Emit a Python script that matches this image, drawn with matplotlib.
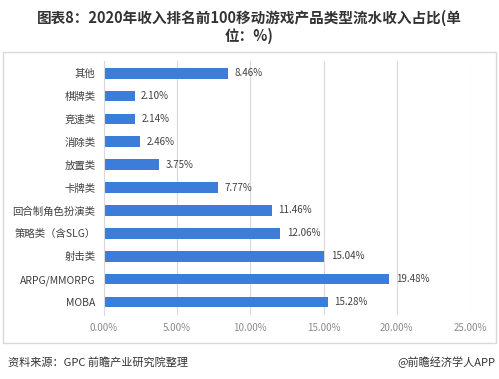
import matplotlib.pyplot as plt
from matplotlib.patches import Rectangle

plt.rcParams['font.family'] = ['Noto Sans CJK SC', 'DejaVu Sans']

categories = ['其他', '棋牌类', '竞速类', '消除类', '放置类', '卡牌类',
              '回合制角色扮演类', '策略类（含SLG）', '射击类', 'ARPG/MMORPG', 'MOBA']
values = [8.46, 2.10, 2.14, 2.46, 3.75, 7.77, 11.46, 12.06, 15.04, 19.48, 15.28]
xticks = [0, 5, 10, 15, 20, 25]

fig = plt.figure(figsize=(4.99, 3.79), dpi=100)
# outer light border around the chart area
fig.patches.append(Rectangle((0.006, 0.095), 0.988, 0.768, transform=fig.transFigure,
                             fill=False, edgecolor='#d9d9d9', linewidth=1))

ax = fig.add_axes([0.208, 0.17, 0.734, 0.67])
pos = list(range(len(categories)))[::-1]
ax.barh(pos, values, height=0.47, color='#3b7dd8')
for p, v in zip(pos, values):
    ax.text(v + 0.45, p, f'{v:.2f}%', va='center', ha='left', fontsize=7, color='#404040')

ax.set_xlim(0, 25)
ax.set_ylim(-0.55, len(categories) - 0.45)
ax.set_xticks(xticks)
ax.set_xticklabels([f'{t:.2f}%' for t in xticks], fontsize=7, color='#8c8c8c')
ax.set_yticks(pos)
ax.set_yticklabels(categories, fontsize=7.5, color='#404040')
ax.tick_params(length=0, pad=6)
ax.grid(axis='x', color='#d9d9d9', linewidth=0.8)
ax.set_axisbelow(True)
for s in ['top', 'right', 'bottom']:
    ax.spines[s].set_visible(False)
ax.spines['left'].set_color('#d9d9d9')

fig.text(0.5, 0.952, '图表8：2020年收入排名前100移动游戏产品类型流水收入占比(单',
         ha='center', va='center', fontsize=10.5, fontweight='bold', color='#333333')
fig.text(0.5, 0.905, '位：%)', ha='center', va='center', fontsize=10.5,
         fontweight='bold', color='#333333')
fig.text(0.016, 0.045, '资料来源：GPC 前瞻产业研究院整理', ha='left', va='center',
         fontsize=8, color='#333333')
fig.text(0.992, 0.045, '@前瞻经济学人APP', ha='right', va='center',
         fontsize=8, color='#333333')

fig.savefig('out.png', dpi=100)
